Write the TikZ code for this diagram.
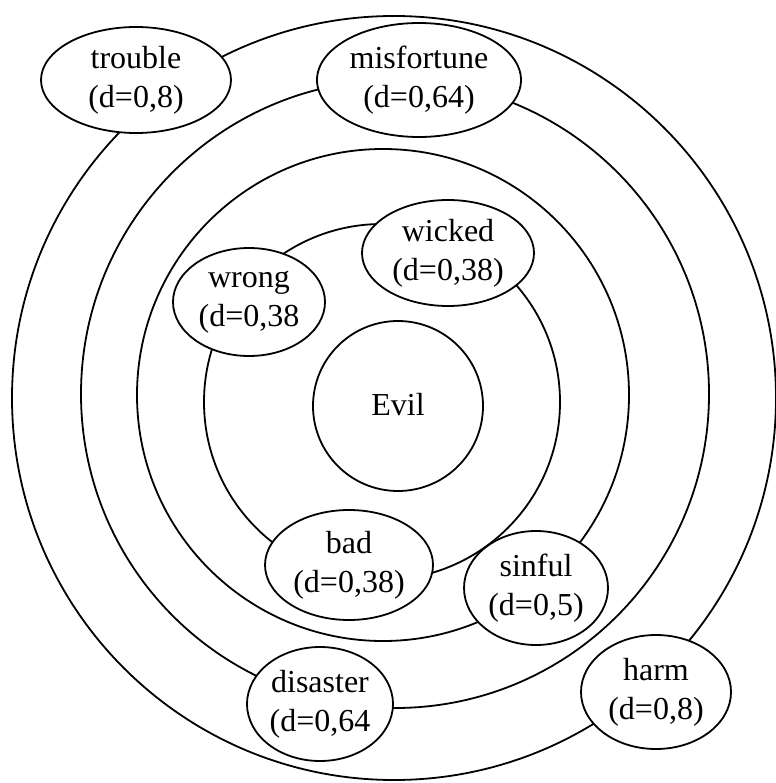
\documentclass[tikz,border=0pt]{standalone}
\usepackage{fontspec}
\setmainfont{Liberation Serif}
\usetikzlibrary{shapes.geometric}

\tikzset{
  ring/.style={line width=1.8pt},
  word/.style={draw, ellipse, line width=1.8pt, fill=white, inner sep=0pt,
    align=center, font=\fontsize{32}{39}\selectfont,
    execute at begin node={\rule{0pt}{30pt}}},
}

\begin{document}
\begin{tikzpicture}[x=1pt,y=-1pt]
            \useasboundingbox (0,0) rectangle (775,783);

            \coordinate (A) at (394,398);
            \coordinate (B) at (395,394);
            \coordinate (C) at (383,395);
            \coordinate (D) at (382,402);
            \draw[ring] (A) circle[radius=382pt];
            \draw[ring] (B) circle[radius=314pt];
            \draw[ring] (C) circle[radius=246pt];
            \draw[ring] (D) circle[radius=178pt];

            \node[draw, circle, ring, minimum size=170pt, inner sep=0pt,
              font=\fontsize{32}{39}\selectfont] (evil) at (398,406) {\raisebox{4pt}{Evil}};

            \node[word, minimum width=190pt, minimum height=106pt] (trouble) at (136,80) {trouble\\(d=0,8)};
            \node[word, minimum width=204pt, minimum height=114pt] (misfortune) at (419,80) {misfortune\\(d=0,64)};
            \node[word, minimum width=172pt, minimum height=106pt] (wicked) at (448,253) {wicked\\(d=0,38)};
            \node[word, minimum width=152pt, minimum height=108pt] (wrong) at (249,302) {wrong\\(d=0,38};
            \node[word, minimum width=168pt, minimum height=110pt] (bad) at (349,565) {bad\\(d=0,38)};
            \node[word, minimum width=144pt, minimum height=114pt] (sinful) at (536,588) {sinful\\(d=0,5)};
            \node[word, minimum width=146pt, minimum height=114pt] (disaster) at (320,704) {disaster\\(d=0,64};
            \node[word, minimum width=150pt, minimum height=114pt] (harm) at (656,692) {harm\\(d=0,8)};
        \end{tikzpicture}
\end{document}
